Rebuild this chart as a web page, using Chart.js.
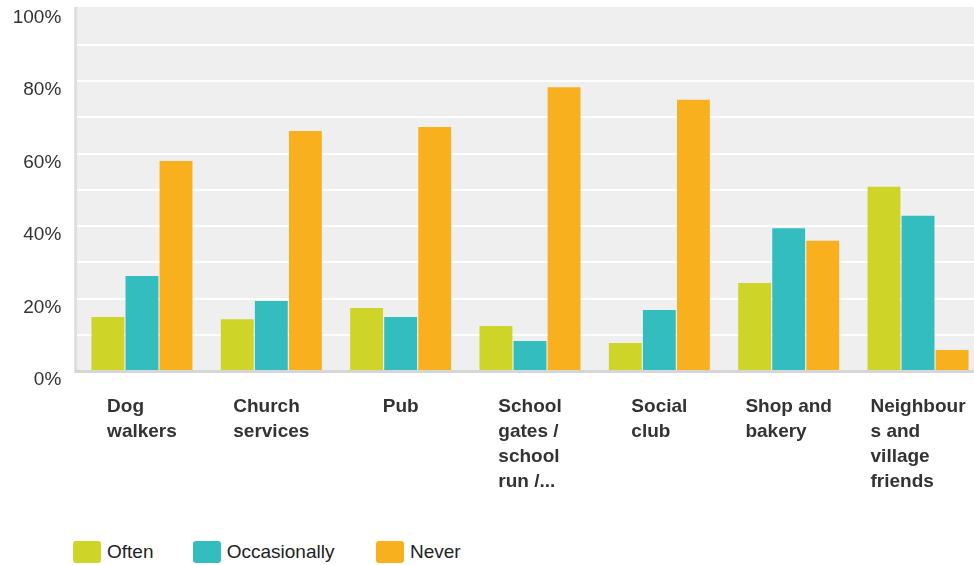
<!DOCTYPE html>
<html><head><meta charset="utf-8">
<script src="https://cdn.jsdelivr.net/npm/chart.js@4.4.1/dist/chart.umd.min.js"></script>
<style>
html,body{margin:0;padding:0;background:#fff;overflow:hidden;width:974px;height:565px;}
#wrap{position:absolute;left:0;top:0;width:990px;height:520px;}
#legend{position:absolute;top:541px;left:0;width:974px;height:22px;font:19px "Liberation Sans",Arial,sans-serif;color:#222;}
.item{position:absolute;top:0;height:22px;display:flex;align-items:center;white-space:nowrap}
.sw{width:28px;height:22px;border-radius:3px;margin-right:6px;flex:none}
</style></head><body>
<div id="wrap"><canvas id="c" width="990" height="520"></canvas></div>
<div id="legend"></div>
<script>
const categories = [["Dog","walkers"],["Church","services"],["Pub"],["School","gates /","school","run /..."],["Social","club"],["Shop and","bakery"],["Neighbour","s and","village","friends"]];
const often = [14.9,14.3,17.4,12.4,7.7,24.3,50.8];
const occasionally = [26.2,19.3,14.9,8.3,16.8,39.4,42.8];
const never = [57.9,66.2,67.3,78.3,74.8,35.9,5.8];
const seriesNames = ["Often","Occasionally","Never"];
const seriesColors = ["#cfd428","#33bdbf","#f8b01e"];
const yTickLabels = [0,20,40,60,80,100];

const FONT = '"Liberation Sans", Arial, sans-serif';
Chart.defaults.font.family = FONT;

const bgPlugin = {
  id: 'bg',
  beforeDraw(chart) {
    const {ctx, chartArea: a} = chart;
    ctx.save();
    ctx.fillStyle = '#efefef';
    ctx.fillRect(a.left - 3, a.top - 1.5, a.right - a.left + 3, a.bottom - a.top + 1.5);
    ctx.fillStyle = '#dedede';
    ctx.fillRect(a.left - 3, a.top - 1.5, 3, a.bottom - a.top + 1.5);
    ctx.restore();
  },
  afterDatasetsDraw(chart) {
    const {ctx, chartArea: a} = chart;
    ctx.save();
    ctx.fillStyle = '#d6d6d6';
    ctx.fillRect(a.left - 3, a.bottom - 1, a.right - a.left + 3, 3);
    ctx.restore();
  },
  afterDraw(chart) {
    const {ctx, chartArea: a} = chart;
    const xs = chart.scales.x;
    ctx.save();
    ctx.font = 'bold 19px ' + FONT;
    ctx.fillStyle = '#333333';
    ctx.textAlign = 'left';
    ctx.textBaseline = 'alphabetic';
    categories.forEach((lines, i) => {
      const cx = xs.getPixelForValue(i);
      const w = Math.max(...lines.map(l => ctx.measureText(l).width));
      lines.forEach((l, k) => ctx.fillText(l, cx - w / 2, a.bottom + 41 + k * 25));
    });
    ctx.restore();
  }
};

const datasets = [often, occasionally, never].map((d, i) => ({
  label: seriesNames[i], data: d, backgroundColor: seriesColors[i],
  borderWidth: 0, barPercentage: 0.965, categoryPercentage: 0.79
}));

new Chart(document.getElementById('c'), {
  type: 'bar',
  data: { labels: categories, datasets },
  options: {
    responsive: false, animation: false, devicePixelRatio: 1,
    layout: { padding: { left: 0, right: 7.3, top: 8.5, bottom: 149 } },
    plugins: { legend: { display: false }, tooltip: { enabled: false } },
    scales: {
      x: { display: false },
      y: {
        min: 0, max: 100,
        border: { display: false },
        grid: {
          color: c => (c.tick && c.tick.value === 100) ? 'rgba(0,0,0,0)' : '#ffffff',
          lineWidth: 2, drawTicks: false
        },
        ticks: {
          stepSize: 10, padding: 16, labelOffset: 9, color: '#333333',
          font: { size: 19 },
          callback: v => yTickLabels.includes(v) ? v + '%' : ''
        },
        afterFit(s) { s.width = 77.3; s.paddingTop = 0; s.paddingBottom = 0; }
      }
    }
  },
  plugins: [bgPlugin]
});

const legendPos = [73, 192.7, 376];
const lg = document.getElementById('legend');
seriesNames.forEach((n, i) => {
  const it = document.createElement('div');
  it.className = 'item';
  it.style.left = legendPos[i] + 'px';
  it.innerHTML = '<span class="sw" style="background:' + seriesColors[i] + '"></span><span>' + n + '</span>';
  lg.appendChild(it);
});
</script>
</body></html>
